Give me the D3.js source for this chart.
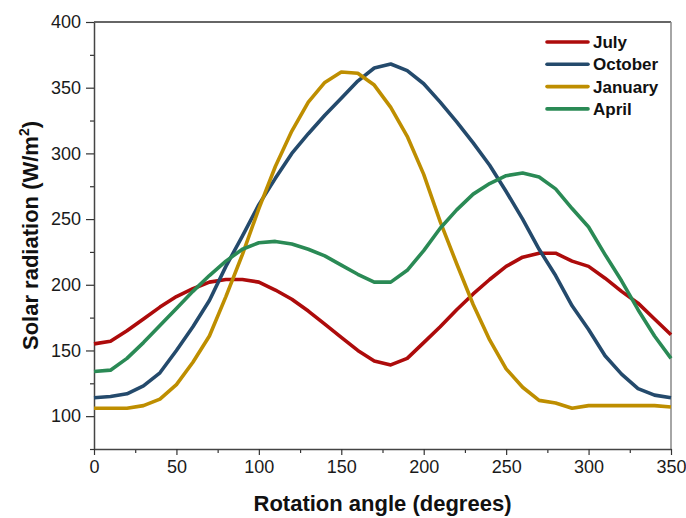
<!DOCTYPE html>
<html><head><meta charset="utf-8">
<script src="https://cdn.jsdelivr.net/npm/d3@7"></script>
<style>body{margin:0;background:#fff}svg{display:block}</style>
</head><body><svg id="c" width="686" height="518"></svg>
<script>
const angles = [0,10,20,30,40,50,60,70,80,90,100,110,120,130,140,150,160,170,180,190,200,210,220,230,240,250,260,270,280,290,300,310,320,330,340,350];
const july    = [155,157,165,174,183,191,197,202,204,204,202,196,189,180,170,160,150,142,139,144,156,168,181,193,204,214,221,224,224,218,214,205,195,186,174,162];
const october = [114,115,117,123,133,150,168,188,214,237,261,281,300,315,329,342,355,365,368,363,353,339,324,308,291,271,250,227,207,184,166,146,132,121,116,114];
const january = [106,106,106,108,113,124,141,161,191,223,258,290,317,339,354,362,361,352,335,313,284,248,216,185,158,136,122,112,110,106,108,108,108,108,108,107];
const april   = [134,135,144,156,169,182,195,207,218,227,232,233,231,227,222,215,208,202,202,211,226,243,257,269,277,283,285,282,273,258,244,223,203,181,161,144];
const seriesNames = ["July","October","January","April"];
const seriesColors = ["#AD0B0B","#244A6C","#BE8E00","#2A8A55"];
const seriesData = [july, october, january, april];
const xTicks = [0,50,100,150,200,250,300,350];
const yTicks = [100,150,200,250,300,350,400];
const xTitle = "Rotation angle (degrees)";

const svg = d3.select("#c");
const L=94, R=671, T=22, B=449;
const x = d3.scaleLinear().domain([0,350]).range([L,R]);
const y = d3.scaleLinear().domain([75,400]).range([B,T]);
const FONT = "Liberation Sans, Arial, sans-serif";

// frame top & right
svg.append("line").attr("x1",L).attr("x2",R).attr("y1",T).attr("y2",T).attr("stroke","#333").attr("stroke-width",1.3);
svg.append("line").attr("x1",R).attr("x2",R).attr("y1",T).attr("y2",B).attr("stroke","#888").attr("stroke-width",1.5);

// minor ticks
const yMinor = d3.range(75,400,50);
const xMinor = d3.range(25,350,50);
svg.append("g").attr("transform",`translate(${L},0)`)
  .call(d3.axisLeft(y).tickValues(yMinor).tickSize(4).tickFormat(""))
  .call(g=>g.select(".domain").remove())
  .selectAll("line").attr("stroke","#333").attr("stroke-width",1.2);
svg.append("g").attr("transform",`translate(0,${B})`)
  .call(d3.axisBottom(x).tickValues(xMinor).tickSize(4).tickFormat(""))
  .call(g=>g.select(".domain").remove())
  .selectAll("line").attr("stroke","#333").attr("stroke-width",1.2);

// major axes
const ya = svg.append("g").attr("transform",`translate(${L},0)`)
  .call(d3.axisLeft(y).tickValues(yTicks).tickSize(8).tickSizeOuter(0).tickPadding(5));
const xa = svg.append("g").attr("transform",`translate(0,${B})`)
  .call(d3.axisBottom(x).tickValues(xTicks).tickSize(6).tickSizeOuter(0).tickPadding(5));
[ya,xa].forEach(a=>{
  a.select(".domain").attr("stroke","#444").attr("stroke-width",1.5);
  a.selectAll(".tick line").attr("stroke","#333").attr("stroke-width",1.2);
  a.selectAll("text").attr("font-family",FONT).attr("font-size",18).attr("fill","#1a1a1a");
});

// lines
const line = d3.line().x((d,i)=>x(angles[i])).y(d=>y(d));
seriesData.forEach((s,k)=>{
  svg.append("path").datum(s).attr("d",line).attr("fill","none")
    .attr("stroke",seriesColors[k]).attr("stroke-width",3.6).attr("stroke-linejoin","round");
});

// legend
seriesNames.forEach((n,k)=>{
  const yy = 42 + k*22.3;
  svg.append("line").attr("x1",547).attr("x2",588).attr("y1",yy).attr("y2",yy)
    .attr("stroke",seriesColors[k]).attr("stroke-width",3.6).attr("stroke-linecap","round");
  svg.append("text").attr("x",593).attr("y",yy).attr("dy","0.36em")
    .attr("font-family",FONT).attr("font-weight","bold")
    .attr("font-size",17).attr("fill","#111").text(n);
});

// titles
svg.append("text").attr("x",(L+R)/2).attr("y",511).attr("text-anchor","middle")
  .attr("font-family",FONT).attr("font-weight","bold")
  .attr("font-size",22).attr("fill","#111").text(xTitle);
const yt = svg.append("text").attr("transform",`translate(38,${(T+B)/2}) rotate(-90)`)
  .attr("text-anchor","middle")
  .attr("font-family",FONT).attr("font-weight","bold")
  .attr("font-size",22).attr("fill","#111");
yt.append("tspan").text("Solar radiation (W/m");
yt.append("tspan").attr("font-size",14).attr("dy",-9).text("2");
yt.append("tspan").attr("dy",9).text(")");
</script></body></html>
